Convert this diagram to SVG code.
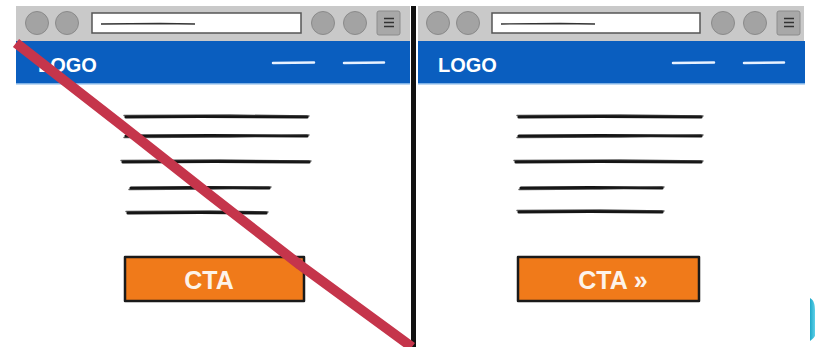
<svg xmlns="http://www.w3.org/2000/svg" width="815" height="347" viewBox="0 0 815 347">
<defs>
<style>
.bar{fill:#c9c9c9}
.blue{fill:#0a5ebf}
.blueline{fill:#7fb2e6}
.dot{fill:#a3a3a3;stroke:#8a8a8a;stroke-width:1}
.url{fill:#fff;stroke:#555;stroke-width:1.5}
.menu{fill:#a8a8a8;stroke:#8c8c8c;stroke-width:1}
.menuln{stroke:#333;stroke-width:1.4}
.scrib{stroke:#333;stroke-width:1.3;fill:none}
.nav{stroke:#e8f2ff;stroke-width:2.5;stroke-linecap:round}
.logo{font-family:"Liberation Sans",Arial,sans-serif;font-weight:bold;font-size:20px;fill:#fff}
.txt{stroke:#151515;stroke-width:3.2;stroke-linecap:round;fill:none}
.txt2{stroke:#222;stroke-width:1.4;stroke-linecap:round;fill:none;opacity:.75}
.cta{fill:#f07a1a;stroke:#1a1a1a;stroke-width:2.5;stroke-linejoin:round}
.ctat{font-family:"Liberation Sans",Arial,sans-serif;font-weight:bold;font-size:25px;fill:#fdf3ea;text-anchor:middle}
</style>
<linearGradient id="cy" x1="0" y1="0" x2="1" y2="0">
<stop offset="0" stop-color="#1ea9c9"/>
<stop offset="1" stop-color="#5fd0e8"/>
</linearGradient>
</defs>
<rect width="815" height="347" fill="#fff"/>

<g id="left-panel">
<rect class="bar" x="16" y="6" width="394" height="35"/>
<circle class="dot" cx="37" cy="23" r="11.5"/>
<circle class="dot" cx="67" cy="23" r="11.5"/>
<rect class="url" x="92" y="13" width="209" height="20"/>
<path class="scrib" d="M101 24 L160 23.5 L195 24"/>
<circle class="dot" cx="323" cy="23" r="11.5"/>
<circle class="dot" cx="355" cy="23" r="11.5"/>
<rect class="menu" x="377" y="11" width="23" height="24" rx="2"/>
<path class="menuln" d="M384 18.5h10M384 22.5h10M384 26.5h10"/>
<rect class="blue" x="16" y="41" width="394" height="42"/>
<rect class="blueline" x="16" y="83" width="394" height="1.5"/>
<text class="logo" x="38" y="72">LOGO</text>
<line class="nav" x1="273" y1="63" x2="314" y2="62.5"/>
<line class="nav" x1="344" y1="63" x2="384" y2="62.5"/>
<g id="left-text">
<path class="txt" d="M126 117 L200 116.5 L307 117"/>
<path class="txt2" d="M124 115.5 L230 115 L309 116"/>
<path class="txt" d="M126 136 L210 135.5 L307 136"/>
<path class="txt2" d="M124 137.5 L230 137 L309 135"/>
<path class="txt" d="M123 162 L215 161.5 L309 162"/>
<path class="txt2" d="M121 160.5 L220 160 L311 161"/>
<path class="txt" d="M131 188 L200 187.5 L269 188"/>
<path class="txt2" d="M129 189.5 L210 189 L271 187"/>
<path class="txt" d="M128 213 L200 212.5 L266 213"/>
<path class="txt2" d="M126 211.5 L210 211 L268 212"/>
</g>
<g id="left-cta">
<rect class="cta" x="125" y="257" width="179" height="44"/>
<text class="ctat" x="209" y="289">CTA</text>
</g>
</g>

<g id="right-panel">
<rect class="bar" x="418" y="6" width="386" height="35"/>
<circle class="dot" cx="438" cy="23" r="11.5"/>
<circle class="dot" cx="468" cy="23" r="11.5"/>
<rect class="url" x="492" y="13" width="208" height="20"/>
<path class="scrib" d="M501 24 L560 23.5 L595 24"/>
<circle class="dot" cx="723" cy="23" r="11.5"/>
<circle class="dot" cx="755" cy="23" r="11.5"/>
<rect class="menu" x="777" y="11" width="23" height="24" rx="2"/>
<path class="menuln" d="M784 18.5h10M784 22.5h10M784 26.5h10"/>
<rect class="blue" x="418" y="41" width="387" height="42"/>
<rect class="blueline" x="418" y="83" width="387" height="1.5"/>
<text class="logo" x="438" y="72">LOGO</text>
<line class="nav" x1="673" y1="63" x2="714" y2="62.5"/>
<line class="nav" x1="744" y1="63" x2="784" y2="62.5"/>
<g id="right-text">
<path class="txt" d="M519 117 L600 116.5 L701 117"/>
<path class="txt2" d="M517 115.5 L620 115 L703 116"/>
<path class="txt" d="M519 136 L600 135.5 L701 136"/>
<path class="txt2" d="M517 137.5 L620 137 L703 135"/>
<path class="txt" d="M516 162 L600 161.5 L701 162"/>
<path class="txt2" d="M514 160.5 L620 160 L703 161"/>
<path class="txt" d="M521 188 L590 187.5 L662 188"/>
<path class="txt2" d="M519 189.5 L600 189 L664 187"/>
<path class="txt" d="M519 212 L590 211.5 L662 212"/>
<path class="txt2" d="M517 210.5 L600 210 L664 211"/>
</g>
<g id="right-cta">
<rect class="cta" x="518" y="257" width="181" height="44"/>
<text class="ctat" x="613" y="289">CTA »</text>
</g>
</g>

<g id="divider">
<rect x="411" y="6" width="5" height="341" fill="#111"/>
</g>

<g id="cross">
<path d="M16 43 L120 124 L210 195 L300 265 L412 347" fill="none" stroke="#c5354b" stroke-width="10" stroke-linecap="butt" stroke-linejoin="round"/>
</g>

<path d="M810 298 C814 300 815 305 815 310 L815 336 C813 339 811 340 810 341 Z" fill="url(#cy)"/>
</svg>
